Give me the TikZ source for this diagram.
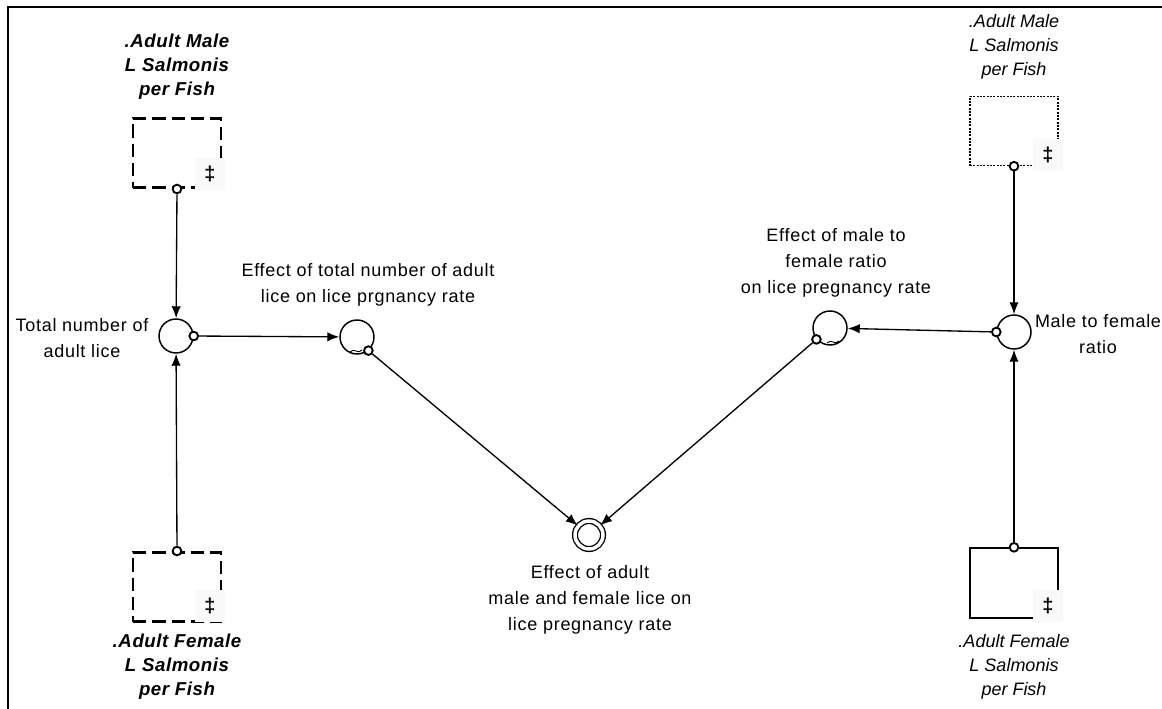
\documentclass[tikz,border=0pt]{standalone}
\usepackage{fontspec}
\setmainfont{Liberation Sans}
\newfontfamily\spacedfont[LetterSpace=4]{Liberation Sans}
\newfontfamily\boldspaced[LetterSpace=3]{Liberation Sans}
\usetikzlibrary{arrows.meta, positioning, calc}

\tikzset{
  aux/.style = {circle, draw, line width=1.1pt, minimum size=25.5pt, inner sep=0pt},
  goal/.style = {circle, draw, double, line width=1pt, double distance=2.6pt, minimum size=21pt, inner sep=0pt},
  pin/.style = {circle, draw, fill=white, line width=1.4pt, minimum size=6.5pt, inner sep=0pt},
  link/.style = {-{Latex[length=9pt,width=7pt]}, line width=1pt},
  stockbox/.style = {rectangle, minimum width=66pt, minimum height=52pt, inner sep=0pt},
  lbl/.style = {align=center, font=\spacedfont\fontsize{13.5}{19.5}\selectfont},
  boldlbl/.style = {align=center, font=\boldspaced\fontsize{14}{18}\selectfont\bfseries\itshape},
  itlbl/.style = {align=center, font=\fontsize{13.5}{18}\selectfont\itshape},
  anchorbox/.style = {fill=gray!5, minimum width=22pt, minimum height=24pt, inner sep=0pt, font=\fontsize{15}{15}\selectfont\bfseries},
}

\begin{document}
\begin{tikzpicture}[x=0.75pt, y=-0.75pt]
  \useasboundingbox (0,0) rectangle (1162,709);
  \draw[line width=2.2pt] (8,709) -- (8,7) -- (1162,7);

  % stocks
  \node[stockbox, draw, line width=2pt, dash pattern=on 10pt off 4.5pt] (maleL) at (177,153) {};
  \node[stockbox, draw, line width=2pt, dash pattern=on 10pt off 4.5pt] (femaleL) at (177,587) {};
  \node[stockbox, draw, line width=0.8pt, dash pattern=on 1.5pt off 1pt] (maleR) at (1014,131) {};
  \node[stockbox, draw, line width=1.5pt] (femaleR) at (1014,583) {};
  \node[anchorbox] (ancML) at (210,174) {‡};
  \node[anchorbox] (ancFL) at (210,606) {‡};
  \node[anchorbox] (ancMR) at (1048,155) {‡};
  \node[anchorbox] (ancFR) at (1048,606) {‡};

  \node[boldlbl] (tMaleL) at (177,67) {.Adult Male\\L Salmonis\\per Fish};
  \node[boldlbl] (tFemaleL) at (177,667) {.Adult Female\\L Salmonis\\per Fish};
  \node[itlbl] (tMaleR) at (1014,47) {.Adult Male\\L Salmonis\\per Fish};
  \node[itlbl] (tFemaleR) at (1014,667) {.Adult Female\\L Salmonis\\per Fish};

  % auxiliaries
  \node[aux] (total) at (176,336) {};
  \node[aux] (effTotal) at (357,337) {};
  \node[aux] (effRatio) at (830,328) {};
  \node[aux] (ratio) at (1014,332) {};
  \node[goal] (effAdult) at (589,535) {};

  \node[lbl] () at (82,338) {Total number of\\adult lice};
  \node[lbl] () at (368,285) {Effect of total number of adult\\lice on lice prgnancy rate};
  \node[lbl] () at (836,263) {Effect of male to\\female ratio\\on lice pregnancy rate};
  \node[lbl] () at (1098,334) {Male to female\\ratio};
  \node[lbl] () at (590,600) {Effect of adult\\male and female lice on\\lice pregnancy rate};

  \draw[line width=0.7pt]
    ($(effTotal)+(-7,15)$) .. controls ($(effTotal)+(-3,10)$) and ($(effTotal)+(1,18)$) .. ($(effTotal)+(5,13)$)
    ($(effRatio)+(-3,15)$) .. controls ($(effRatio)+(1,10)$) and ($(effRatio)+(5,18)$) .. ($(effRatio)+(9,13)$);

  % connectors
  \node[pin] (pML) at (maleL.south) {};
  \node[pin] (pFL) at (femaleL.north) {};
  \node[pin] (pMR) at (maleR.south) {};
  \node[pin] (pFR) at (femaleR.north) {};
  \node[pin] (pTot) at (total.east) {};
  \node[pin] (pEffT) at (effTotal.-50) {};
  \node[pin] (pEffR) at (effRatio.-140) {};
  \node[pin] (pRat) at (ratio.west) {};

  \draw[link] (pML) -- (total);
  \draw[link] (pFL) -- (total);
  \draw[link] (pTot) -- (effTotal);
  \draw[link] (pEffT) -- (effAdult);
  \draw[link] (pEffR) -- (effAdult);
  \draw[link] (pMR) -- (ratio);
  \draw[link] (pFR) -- (ratio);
  \draw[link] (pRat) -- (effRatio);
\end{tikzpicture}
\end{document}
